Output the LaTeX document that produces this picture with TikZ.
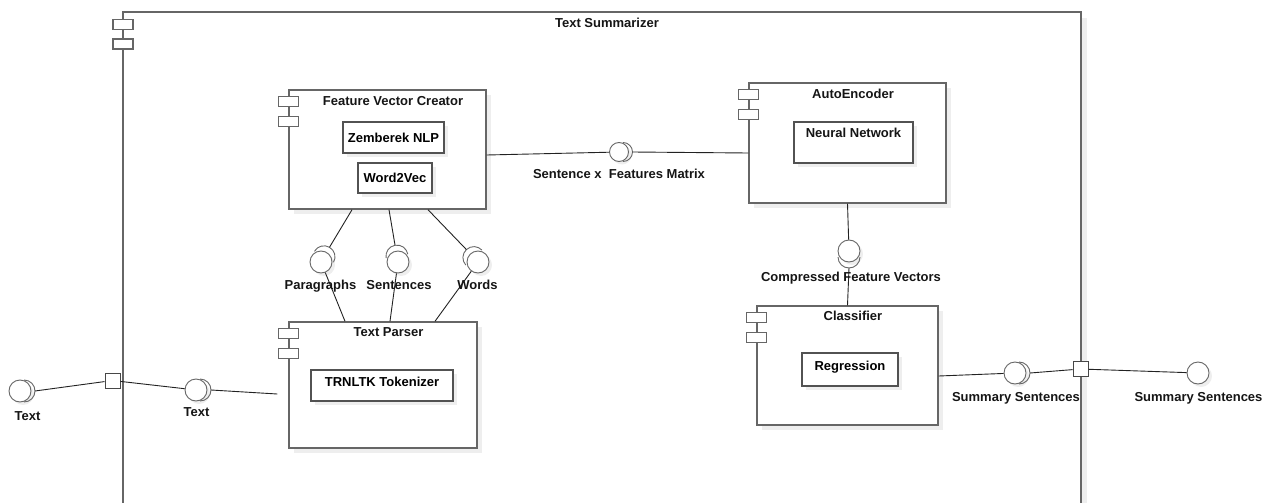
\documentclass[tikz,border=0pt]{standalone}
\usepackage{fontspec}
\setmainfont{Liberation Sans}
\usetikzlibrary{positioning,calc,shadows}
\definecolor{FrameGray}{HTML}{666666}
\definecolor{WireDark}{HTML}{222222}
\definecolor{ShadowGray}{HTML}{EEEEEE}
\definecolor{LabelInk}{HTML}{151515}

\tikzset{
  boxline/.style={draw=FrameGray, line width=1.4pt},
  iconbox/.style={draw=FrameGray, line width=1.1pt, fill=white},
  compbox/.style={boxline, fill=white, rectangle, inner sep=0pt,
    drop shadow={shadow xshift=5pt, shadow yshift=-5pt, fill=ShadowGray, opacity=1}},
  partbox/.style={draw=FrameGray!80!black, line width=1.2pt, fill=white, rectangle, inner sep=0pt,
    drop shadow={shadow xshift=4pt, shadow yshift=-4pt, fill=ShadowGray, opacity=1}},
  ball/.style={circle, draw=FrameGray, line width=0.9pt, fill=white, minimum size=22pt, inner sep=0pt,
    drop shadow={shadow xshift=3pt, shadow yshift=-3pt, fill=ShadowGray, opacity=1}},
  port/.style={rectangle, draw=FrameGray!70!black, line width=1pt, fill=white, minimum size=15pt, inner sep=0pt},
  wire/.style={draw=WireDark, line width=0.9pt},
  lbl/.style={text=LabelInk, inner sep=0pt, text height=9.5pt, text depth=2.5pt},
  sock/.pic={
    \draw[draw=FrameGray, line width=0.9pt] (0,#1) arc (90:-90:#1);
    \coordinate (-tip) at (#1,0);
  }
}

% two small boxes of the component symbol on a box corner
\newcommand{\compicon}[1]{%
  \draw[iconbox] ([shift={(-10pt,-7.5pt)}]#1) rectangle ++(20pt,-10pt);
  \draw[iconbox] ([shift={(-10pt,-27pt)}]#1) rectangle ++(20pt,-10pt);
}

\begin{document}
\begin{tikzpicture}[x=1pt, y=1pt, font=\fontsize{13}{15}\selectfont\bfseries]
  \useasboundingbox (0,0) rectangle (1269,-503);

  % system frame
  \coordinate (sysNW) at (123,-12);
  \coordinate (sysNE) at (1081,-12);
  \coordinate (sysSW) at (123,-503);
  \coordinate (sysSE) at (1081,-503);
  \fill[ShadowGray] (1082,-18) rectangle (1087,-503);
  \draw[boxline] (sysSW) -- (sysNW) -- (sysNE) -- (sysSE);
  \compicon{sysNW}
  \node[lbl] (sysT) at (607,-24) {Text Summarizer};

  % components
  \node[compbox, minimum width=197pt, minimum height=119pt] (fvc) at (387.5,-149.5) {};
  \node[compbox, minimum width=197pt, minimum height=120pt] (ae) at (847.5,-143) {};
  \node[compbox, minimum width=188pt, minimum height=126pt] (tp) at (383,-385) {};
  \node[compbox, minimum width=181pt, minimum height=119pt] (cls) at (847.5,-365.5) {};
  \compicon{fvc.north west}
  \compicon{ae.north west}
  \compicon{tp.north west}
  \compicon{cls.north west}
  \node[lbl] (fvcT) at ([shift={(5.5,-13)}]fvc.north) {Feature Vector Creator};
  \node[lbl] (aeT) at ([shift={(5.5,-13)}]ae.north) {AutoEncoder};
  \node[lbl] (tpT) at ([shift={(5.5,-12)}]tp.north) {Text Parser};
  \node[lbl] (clsT) at ([shift={(5.5,-12)}]cls.north) {Classifier};

  % parts
  \node[partbox, minimum width=101pt, minimum height=31pt] (zem) at (393.5,-137.5) {Zemberek NLP};
  \node[partbox, minimum width=74pt, minimum height=30pt] (w2v) at (395,-178) {Word2Vec};
  \node[partbox, minimum width=119pt, minimum height=41pt,
    label={[lbl, anchor=center, yshift=-13pt]north:Neural Network}] (nn) at (853.5,-142.5) {};
  \node[partbox, minimum width=142pt, minimum height=31pt, text height=9.5pt, text depth=8.5pt] (tok) at (382,-385.5) {TRNLTK Tokenizer};
  \node[partbox, minimum width=96pt, minimum height=33pt, text height=9.5pt, text depth=8.5pt] (reg) at (850,-369.5) {Regression};

  % interfaces
  \node[ball, minimum size=19pt] (bSfm) at (619,-152) {};
  \node[ball] (bCfv) at (849,-251) {};
  \node[ball] (bPar) at (321,-262) {};
  \node[ball] (bSen) at (398,-262) {};
  \node[ball] (bWrd) at (478,-262) {};
  \node[ball] (bTxtOut) at (20,-391) {};
  \node[ball] (bTxt) at (196,-390) {};
  \node[ball] (bSum) at (1015,-373) {};
  \node[ball] (bSumOut) at (1198,-373) {};
  \pic (sSfm) at ($(bSfm)+(0:4)$) {sock=9.5};
  \pic[rotate=-90] (sCfv) at ($(bCfv)+(-90:6)$) {sock=11};
  \pic[rotate=60] (sPar) at ($(bPar)+(60:6)$) {sock=11};
  \pic[rotate=100] (sSen) at ($(bSen)+(100:6)$) {sock=11};
  \pic[rotate=133] (sWrd) at ($(bWrd)+(133:6)$) {sock=11};
  \pic (sTxtOut) at ($(bTxtOut)+(0:4)$) {sock=11};
  \pic (sTxt) at ($(bTxt)+(0:4)$) {sock=11};
  \pic (sSum) at ($(bSum)+(0:4)$) {sock=11};

  % ports
  \node[port] (pIn) at (112.5,-380.5) {};
  \node[port] (pOut) at (1080.5,-369) {};
  \coordinate (tpIn) at ([shift={(-11pt,-9pt)}]tp.west);

  % connectors
  \draw[wire] ([yshift=-5.5pt]fvc.east) -- (bSfm);
  \draw[wire] (sSfm-tip) -- ([yshift=-10pt]ae.west);
  \draw[wire] (ae.south) -- (bCfv);
  \draw[wire] (sCfv-tip) -- (cls.north);
  \draw[wire] ([xshift=-35.5pt]fvc.south) -- (sPar-tip);
  \draw[wire] ([xshift=1.5pt]fvc.south) -- (sSen-tip);
  \draw[wire] ([xshift=40.5pt]fvc.south) -- (sWrd-tip);
  \draw[wire] (bPar) -- ([xshift=-38pt]tp.north);
  \draw[wire] (bSen) -- ([xshift=7pt]tp.north);
  \draw[wire] (bWrd) -- ([xshift=52pt]tp.north);
  \draw[wire] (sTxtOut-tip) -- (pIn);
  \draw[wire] (pIn) -- (bTxt);
  \draw[wire] (sTxt-tip) -- (tpIn);
  \draw[wire] ([yshift=-10.5pt]cls.east) -- (bSum);
  \draw[wire] (sSum-tip) -- (pOut);
  \draw[wire] (pOut) -- (bSumOut);

  % labels
  \node[lbl] (lSfm) at (619,-175) {Sentence x\ \ Features Matrix};
  \node[lbl] (lPar) at (320.5,-286) {Paragraphs};
  \node[lbl] (lSen) at (399,-286) {Sentences};
  \node[lbl] (lWrd) at (477.5,-286) {Words};
  \node[lbl] (lCfv) at (851,-278) {Compressed Feature Vectors};
  \node[lbl] (lTxtOut) at (27.5,-417) {Text};
  \node[lbl] (lTxt) at (196.5,-413) {Text};
  \node[lbl] (lSum) at (1016,-398) {Summary Sentences};
  \node[lbl] (lSumOut) at (1198.5,-398) {Summary Sentences};
\end{tikzpicture}
\end{document}
